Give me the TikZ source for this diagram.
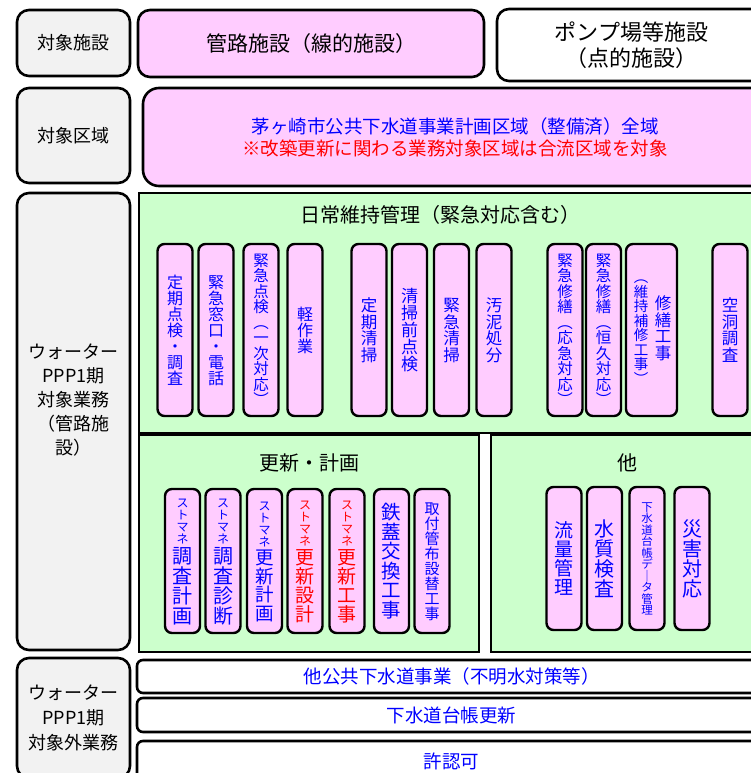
\documentclass[tikz,border=0pt]{standalone}
\usepackage{fontspec}
\setmainfont{Noto Sans CJK JP}

\definecolor{boxpink}{HTML}{FFCCFF}
\definecolor{boxgreen}{HTML}{CCFFCC}
\definecolor{boxgray}{HTML}{F2F2F2}
\definecolor{txtblue}{HTML}{0000FF}

% font size / baseline skip
\newcommand\fs[2]{\fontsize{#1}{#2}\selectfont}
% vertical (tategaki) text: one character per 1em cell
\def\tate#1{\vbox{\offinterlineskip\expandafter\tatenext#1\relax}}
\def\tatenext#1{\ifx\relax#1\else\hbox to 1.1em{\hss\vrule height .88em depth .12em width 0pt\relax#1\hss}\expandafter\tatenext\fi}

\begin{document}
\begin{tikzpicture}
            [x=1pt,y=-1pt,
             lab/.style={draw,fill=boxgray,rounded corners=12pt,line width=2.6pt,inner sep=0pt,align=center,font=\fs{18}{24}},
             pinkbox/.style={draw,fill=boxpink,rounded corners=12pt,line width=2.6pt,inner sep=0pt},
             whitebox/.style={draw,fill=white,rounded corners=6pt,line width=2.6pt,inner sep=0pt,text=txtblue,font=\fs{18.5}{22}},
             greenbox/.style={draw,fill=boxgreen,line width=2.8pt,inner sep=0pt},
             ttl/.style={inner sep=0pt,font=\fs{20}{20}},
             item/.style={draw,fill=boxpink,rounded corners=7pt,line width=2.4pt,inner sep=0pt,text=txtblue,minimum width=35pt},
             vtxt/.style={inner sep=0pt,text=txtblue}]

            \useasboundingbox (0,0) rectangle (751,773);
            \clip (0,0) rectangle (751,773);

            % row 1
            \node (lab1) [lab,minimum width=113pt,minimum height=66pt] at (73.5,43) {対象施設};
            \node (kanro) [pinkbox,minimum width=346pt,minimum height=67pt,font=\fs{21}{24}] at (311,43.5) {管路施設（線的施設）};
            \node (pump) [pinkbox,fill=white,minimum width=269pt,minimum height=72pt,align=center,font=\fs{22}{26}] at (631.5,45) {ポンプ場等施設\\（点的施設）};

            % row 2
            \node (lab2) [lab,minimum width=113pt,minimum height=95pt] at (73.5,135.5) {対象区域};
            \node (area) [pinkbox,rounded corners=16pt,minimum width=624pt,minimum height=98pt,align=center,font=\fs{18.5}{22}] at (455,137)
                {\textcolor{txtblue}{茅ヶ崎市公共下水道事業計画区域（整備済）全域}\\\textcolor{red}{※改築更新に関わる業務対象区域は合流区域を対象}};

            % row 3
            \node (lab3) [lab,minimum width=113pt,minimum height=457pt] at (73.5,421.5) {};
            \node (lab3txt) [inner sep=0pt,align=center,font=\fs{18}{24}] at (73.5,400) {ウォーター\\PPP1期\\対象業務\\（管路施\\設）};

            \node (daily) [greenbox,minimum width=627pt,minimum height=240pt] at (452.5,313) {};
            \node (dailyttl) [ttl] at (440,215) {日常維持管理（緊急対応含む）};
            \foreach \cx/\nm/\txt/\sz in {175/d1/定期点検・調査/16, 216/d2/緊急窓口・電話/16,
                    261/d3/緊急点検︵一次対応︶/15.5, 305/d4/軽作業/16, 369/d5/定期清掃/16.5,
                    409.5/d6/清掃前点検/17, 451.5/d7/緊急清掃/16.5, 494/d8/汚泥処分/16.5,
                    565/d9/緊急修繕︵応急対応︶/15.5, 603.5/d10/緊急修繕︵恒久対応︶/15.5, 730/d12/空洞調査/16.5}
                \node (\nm) [item,minimum height=172pt,font=\fs{\sz}{\sz}] at (\cx,330) {\tate{\txt}};
            \node (d11) [item,minimum width=51pt,minimum height=172pt] at (651.5,330) {};
            \node (d11a) [vtxt,font=\fs{16.5}{16.5}] at (663,328) {\tate{修繕工事}};
            \node (d11b) [vtxt,font=\fs{14.5}{14.5}] at (641,328) {\tate{︵維持補修工事︶}};

            \node (renew) [greenbox,minimum width=340pt,minimum height=217pt] at (309,543.5) {};
            \node (renewttl) [ttl] at (309,463) {更新・計画};
            \foreach \cx/\nm/\txt/\sz/\col in {182.5/r1/調査計画/20/txtblue, 223/r2/調査診断/20/txtblue,
                    264.5/r3/更新計画/18.5/txtblue, 305/r4/更新設計/19/red, 347/r5/更新工事/19/red}
                \node (\nm) [item,minimum height=144pt,text=\col,align=center] at (\cx,561)
                    {{\fs{12}{12}\tate{ストマネ}}\\{\fs{\sz}{\sz}\tate{\txt}}};
            \node (r6) [item,minimum height=144pt,font=\fs{19.5}{19.5}] at (391.5,561) {\tate{鉄蓋交換工事}};
            \node (r7) [item,minimum height=144pt,font=\fs{15}{15}] at (432,561) {\tate{取付管布設替工事}};

            \node (other) [greenbox,minimum width=275pt,minimum height=217pt] at (628.5,543.5) {};
            \node (otherttl) [ttl] at (627,463) {他};
            \foreach \cx/\nm/\txt/\sz in {564/o1/流量管理/19, 604.5/o2/水質検査/20,
                    647/o3/下水道台帳デ｜タ管理/11.5, 692/o4/災害対応/20}
                \node (\nm) [item,minimum height=143pt,font=\fs{\sz}{\sz}] at (\cx,558.5) {\tate{\txt}};

            % row 4
            \node (lab4) [lab,minimum width=113pt,minimum height=120pt,font=\fs{18}{25}] at (73.5,718) {ウォーター\\PPP1期\\対象外業務};
            \node (w1) [whitebox,minimum width=629pt,minimum height=33pt] at (451.5,676.5) {他公共下水道事業（不明水対策等）};
            \node (w2) [whitebox,minimum width=629pt,minimum height=34pt] at (451.5,715) {下水道台帳更新};
            \node (w3) [whitebox,minimum width=629pt,minimum height=40pt] at (451.5,761) {許認可};
        \end{tikzpicture}
\end{document}
